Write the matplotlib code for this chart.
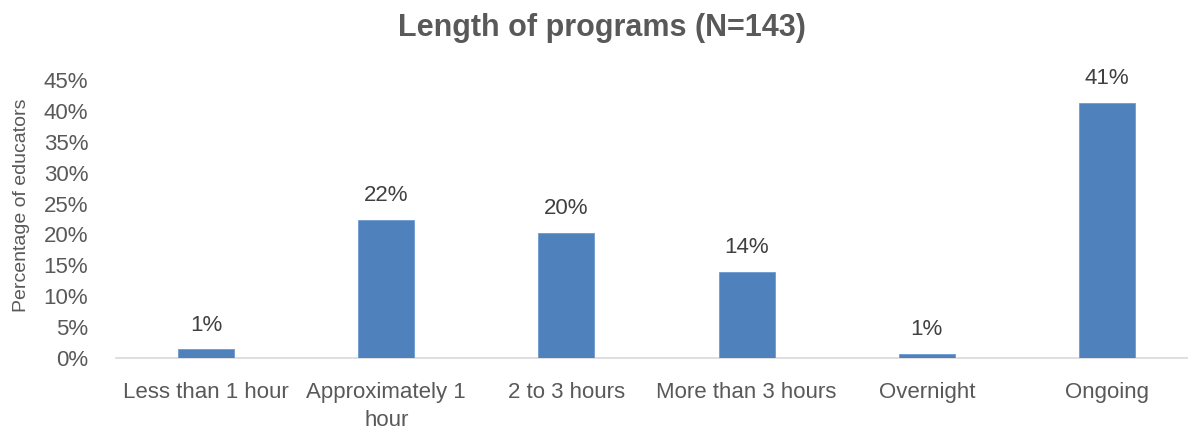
import matplotlib
matplotlib.use('Agg')
import matplotlib.pyplot as plt
from matplotlib import font_manager
from matplotlib.ticker import PercentFormatter

categories = ['Less than 1 hour', 'Approximately 1\nhour', '2 to 3 hours',
              'More than 3 hours', 'Overnight', 'Ongoing']
values = [1.4, 22.4, 20.3, 14.0, 0.7, 41.3]
labels = ['1%', '22%', '20%', '14%', '1%', '41%']
yticks = [0, 5, 10, 15, 20, 25, 30, 35, 40, 45]

names = {f.name for f in font_manager.fontManager.ttflist}
FONT = 'Liberation Sans Narrow' if 'Liberation Sans Narrow' in names else 'Liberation Sans'
plt.rcParams['font.family'] = [FONT, 'DejaVu Sans']

TXT = '#595959'
BAR = '#4f81bd'

fig = plt.figure(figsize=(11.88, 4.32), dpi=100)
ax = fig.add_axes([116/1188, 1-358/432, 1-116/1188, 278/432])

x = range(len(categories))
bars = ax.bar(x, values, width=0.31, color=BAR, edgecolor='#6f9ad0', linewidth=0.6, zorder=3)
for b, lab in zip(bars, labels):
    ax.text(b.get_x()+b.get_width()/2, b.get_height()+2.2, lab,
            ha='center', va='bottom', fontsize=16, color='#404040')

ax.set_xlim(-0.5, 5.45)
ax.set_ylim(0, 45)
ax.set_yticks(yticks)
ax.yaxis.set_major_formatter(PercentFormatter(decimals=0))
ax.set_xticks(list(x))
ax.set_xticklabels(categories, fontsize=16, color=TXT, linespacing=1.45)
ax.tick_params(axis='y', labelsize=16, labelcolor=TXT, length=0, pad=20)
ax.tick_params(axis='x', length=0, pad=17)
for s in ['top', 'right', 'left']:
    ax.spines[s].set_visible(False)
ax.spines['bottom'].set_color('#d9d9d9')
ax.spines['bottom'].set_linewidth(1.2)
ax.set_ylabel('Percentage of educators', fontsize=14, color=TXT)
ax.yaxis.set_label_coords(-0.08, 0.55)

fig.text(0.507, 0.935, 'Length of programs (N=143)', ha='center', va='center',
         fontsize=22, fontweight='bold', color=TXT)

fig.savefig('out.png', dpi=100)
